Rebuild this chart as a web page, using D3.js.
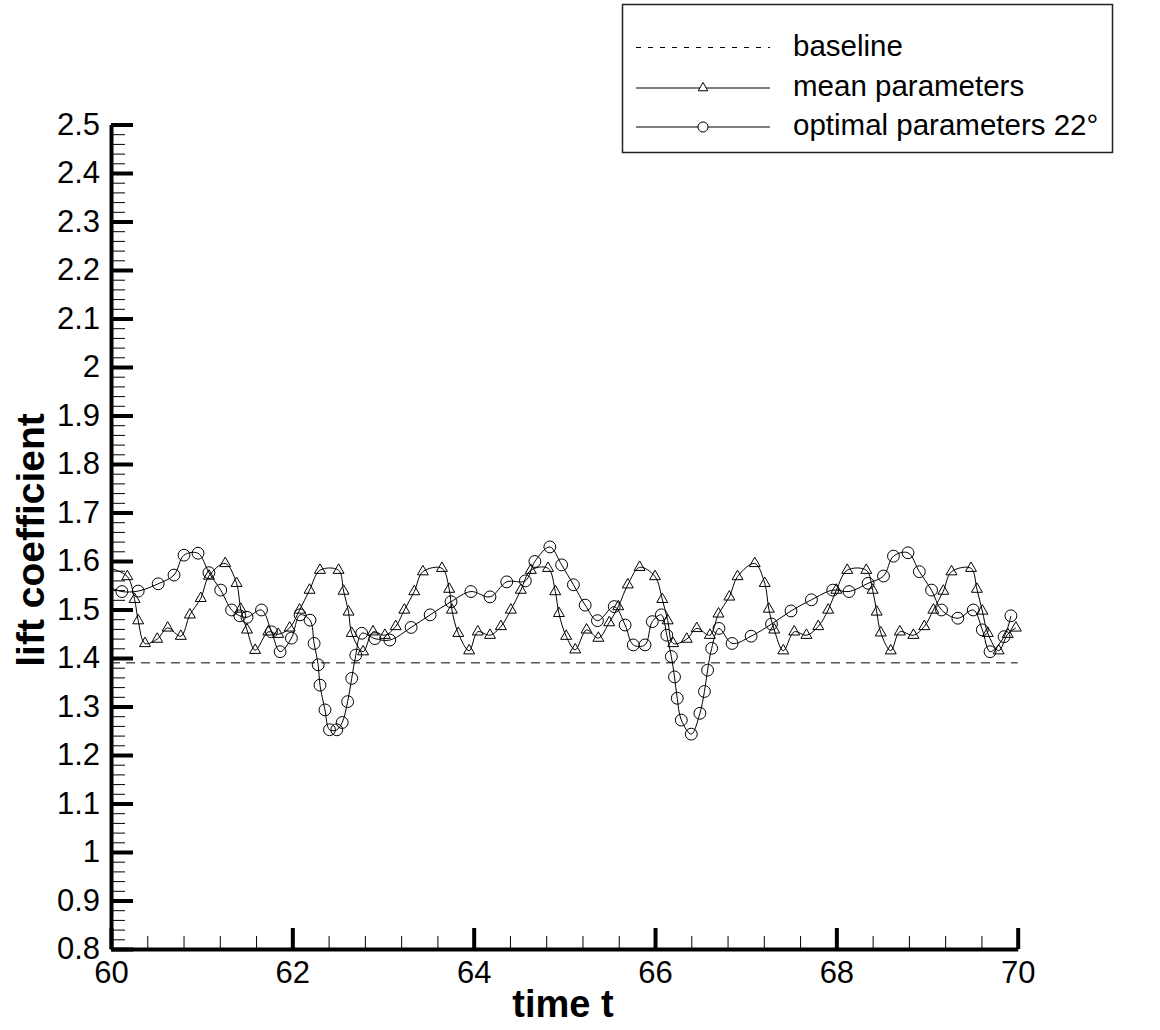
<!DOCTYPE html>
<html><head><meta charset="utf-8">
<script src="https://cdn.jsdelivr.net/npm/d3@7"></script>
<style>body{margin:0;background:#fff}svg{display:block}text{font-family:"Liberation Sans",Arial,Helvetica,sans-serif}</style>
</head><body>
<script>
// ---- data ----
const meanT = [60.0,60.18,60.26,60.30,60.375,60.51,60.625,60.77,60.87,60.99,61.08,61.26,61.385,61.43,61.50,61.59,61.735,61.845,61.97,62.08,62.19,62.305,62.51,62.565,62.62,62.655,62.78,62.89,63.02,63.14,63.235,63.345,63.44,63.65,63.73,63.76,63.83,63.95,64.045,64.18,64.30,64.41,64.52,64.63,64.82,64.90,64.94,65.02,65.12,65.245,65.375,65.495,65.595,65.70,65.83,66.00,66.08,66.14,66.20,66.35,66.46,66.605,66.70,66.82,66.91,67.10,67.21,67.255,67.315,67.415,67.535,67.67,67.80,67.91,68.00,68.12,68.33,68.40,68.445,68.49,68.60,68.70,68.85,68.97,69.07,69.18,69.27,69.485,69.55,69.61,69.67,69.79,69.89,69.98];
const meanV = [1.585,1.568,1.521,1.477,1.430,1.439,1.462,1.445,1.489,1.523,1.569,1.595,1.554,1.501,1.458,1.416,1.454,1.449,1.462,1.499,1.540,1.581,1.581,1.538,1.495,1.451,1.413,1.454,1.447,1.465,1.499,1.537,1.578,1.585,1.542,1.499,1.451,1.415,1.454,1.447,1.465,1.499,1.540,1.581,1.585,1.537,1.492,1.445,1.417,1.458,1.441,1.473,1.506,1.551,1.587,1.568,1.521,1.477,1.430,1.439,1.461,1.447,1.491,1.526,1.568,1.595,1.554,1.501,1.458,1.415,1.454,1.447,1.465,1.499,1.540,1.581,1.581,1.540,1.495,1.452,1.415,1.454,1.447,1.465,1.499,1.538,1.578,1.585,1.542,1.497,1.451,1.415,1.449,1.462];
const optT = [60.0,60.12,60.30,60.52,60.695,60.805,60.96,61.08,61.21,61.33,61.42,61.50,61.66,61.77,61.865,61.99,62.085,62.195,62.24,62.285,62.305,62.36,62.41,62.49,62.55,62.61,62.655,62.70,62.765,62.91,63.075,63.31,63.52,63.75,63.97,64.18,64.365,64.57,64.675,64.84,64.97,65.10,65.23,65.365,65.55,65.67,65.76,65.89,65.97,66.07,66.13,66.18,66.215,66.245,66.29,66.40,66.495,66.545,66.58,66.625,66.705,66.85,67.06,67.285,67.50,67.725,67.96,68.14,68.35,68.52,68.63,68.79,68.915,69.05,69.16,69.34,69.51,69.61,69.695,69.85,69.925];
const optV = [1.545,1.537,1.538,1.553,1.571,1.612,1.616,1.576,1.540,1.499,1.487,1.484,1.499,1.454,1.413,1.441,1.489,1.478,1.430,1.386,1.344,1.293,1.252,1.252,1.267,1.310,1.358,1.406,1.451,1.440,1.437,1.463,1.489,1.516,1.537,1.526,1.557,1.559,1.599,1.629,1.592,1.551,1.509,1.477,1.506,1.468,1.427,1.427,1.475,1.489,1.447,1.403,1.361,1.317,1.272,1.243,1.286,1.331,1.375,1.420,1.461,1.430,1.445,1.470,1.497,1.520,1.540,1.537,1.554,1.569,1.610,1.617,1.578,1.540,1.499,1.482,1.499,1.458,1.413,1.444,1.487];
const baselineT = [60, 70];
const baselineV = [1.39, 1.39];
const xTicks = [60, 62, 64, 66, 68, 70];
const yTicks = [0.8,0.9,1.0,1.1,1.2,1.3,1.4,1.5,1.6,1.7,1.8,1.9,2.0,2.1,2.2,2.3,2.4,2.5];
const yTickLabels = ["0.8","0.9","1","1.1","1.2","1.3","1.4","1.5","1.6","1.7","1.8","1.9","2","2.1","2.2","2.3","2.4","2.5"];
const legendLabels = ["baseline", "mean parameters", "optimal parameters 22°"];
const xTitle = "time t";
const yTitle = "lift coefficient";

// ---- drawing ----
const W = 1160, H = 1030;
const svg = d3.select("body").append("svg").attr("width", W).attr("height", H);
const x = d3.scaleLinear().domain([60, 70]).range([111, 1017.7]);
const y = d3.scaleLinear().domain([0.8, 2.5]).range([949, 124.5]);

// minor ticks
const xMinor = d3.range(60, 70.001, 0.4).filter(v => Math.abs(v/2 - Math.round(v/2)) > 1e-6);
const yMinor = d3.range(0.8, 2.5001, 0.02).filter(v => Math.abs(v*10 - Math.round(v*10)) > 1e-6);

const gxm = svg.append("g").attr("transform", "translate(0,949)")
  .call(d3.axisBottom(x).tickValues(xMinor).tickSizeInner(-13).tickSizeOuter(0).tickFormat(""));
gxm.select(".domain").remove();
gxm.selectAll("line").attr("stroke", "#000").attr("stroke-width", 1);

const gym = svg.append("g").attr("transform", "translate(111,0)")
  .call(d3.axisLeft(y).tickValues(yMinor).tickSizeInner(-14).tickSizeOuter(0).tickFormat(""));
gym.select(".domain").remove();
gym.selectAll("line").attr("stroke", "#000").attr("stroke-width", 1);

// major
const gx = svg.append("g").attr("transform", "translate(0,949)")
  .call(d3.axisBottom(x).tickValues(xTicks).tickSizeInner(-21).tickSizeOuter(0).tickPadding(12).tickFormat(d3.format("d")));
gx.select(".domain").attr("stroke", "#000").attr("stroke-width", 4);
gx.selectAll(".tick line").attr("stroke", "#000").attr("stroke-width", 4);
gx.selectAll(".tick text").attr("font-size", 31).attr("fill", "#000").attr("font-family", "Liberation Sans, Arial, sans-serif");

const gy = svg.append("g").attr("transform", "translate(111,0)")
  .call(d3.axisLeft(y).tickValues(yTicks).tickSizeInner(-22).tickSizeOuter(0).tickPadding(11)
    .tickFormat((d, i) => yTickLabels[i]));
gy.select(".domain").attr("stroke", "#000").attr("stroke-width", 4);
gy.selectAll(".tick line").attr("stroke", "#000").attr("stroke-width", 4);
gy.selectAll(".tick text").attr("font-size", 31).attr("fill", "#000").attr("font-family", "Liberation Sans, Arial, sans-serif");

// axis titles
svg.append("text").attr("x", 563).attr("y", 1017).attr("text-anchor", "middle")
  .attr("font-size", 38).attr("font-weight", "bold").text(xTitle);
svg.append("text").attr("transform", "translate(44,540) rotate(-90)").attr("text-anchor", "middle")
  .attr("font-size", 39).attr("font-weight", "bold").text(yTitle);

// lines
const line = d3.line().x(d => x(d[0])).y(d => y(d[1])).curve(d3.curveCatmullRom.alpha(0.5));
const meanPts = meanT.map((t, i) => [t, meanV[i]]);
const optPts = optT.map((t, i) => [t, optV[i]]);
const basePts = baselineT.map((t, i) => [t, baselineV[i]]);

svg.append("path").datum(basePts).attr("d", d3.line().x(d => x(d[0])).y(d => y(d[1])))
  .attr("fill", "none").attr("stroke", "#000").attr("stroke-width", 1).attr("stroke-dasharray", "9,6");
svg.append("path").datum(meanPts).attr("d", line).attr("fill", "none").attr("stroke", "#000").attr("stroke-width", 1);
svg.append("path").datum(optPts).attr("d", line).attr("fill", "none").attr("stroke", "#000").attr("stroke-width", 1);

const tri = d3.symbol().type(d3.symbolTriangle).size(52);
const circ = d3.symbol().type(d3.symbolCircle).size(110);
svg.append("g").selectAll("path").data(meanPts.slice(1)).join("path")
  .attr("transform", d => `translate(${x(d[0])},${y(d[1])})`).attr("d", tri)
  .attr("fill", "none").attr("stroke", "#000").attr("stroke-width", 1);
svg.append("g").selectAll("path").data(optPts.slice(1)).join("path")
  .attr("transform", d => `translate(${x(d[0])},${y(d[1])})`).attr("d", circ)
  .attr("fill", "none").attr("stroke", "#000").attr("stroke-width", 1);

// legend
const lg = svg.append("g");
lg.append("rect").attr("x", 622.5).attr("y", 4.5).attr("width", 490).attr("height", 148)
  .attr("fill", "#fff").attr("stroke", "#222").attr("stroke-width", 1.5);
const rows = [47.5, 88, 127];
legendLabels.forEach((lab, i) => {
  const r = rows[i];
  const l = lg.append("line").attr("x1", 636).attr("x2", 770).attr("y1", r).attr("y2", r)
    .attr("stroke", "#000").attr("stroke-width", 1);
  if (i === 0) l.attr("stroke-dasharray", "5,7");
  if (i === 1) lg.append("path").attr("transform", `translate(703,${r})`).attr("d", d3.symbol().type(d3.symbolTriangle).size(40)())
    .attr("fill", "#fff").attr("stroke", "#000");
  if (i === 2) lg.append("path").attr("transform", `translate(703,${r})`).attr("d", d3.symbol().type(d3.symbolCircle).size(80)())
    .attr("fill", "#fff").attr("stroke", "#000");
  lg.append("text").attr("x", 793).attr("y", r + 8).attr("font-size", 29.5).text(lab);
});
</script>
</body></html>
